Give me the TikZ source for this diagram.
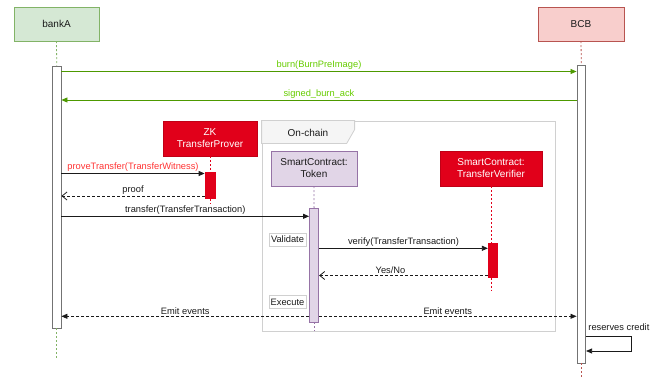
\documentclass[tikz,border=0pt]{standalone}
\usepackage{fontspec}
\setmainfont{Liberation Sans}
\usetikzlibrary{arrows.meta,calc}

\definecolor{bankfill}{HTML}{D5E8D4}
\definecolor{bankline}{HTML}{82B366}
\definecolor{bcbfill}{HTML}{F8CECC}
\definecolor{bcbline}{HTML}{B85450}
\definecolor{zkred}{HTML}{E1001A}
\definecolor{zkline}{HTML}{C00016}
\definecolor{tokfill}{HTML}{E1D5E7}
\definecolor{tokline}{HTML}{9673A6}
\definecolor{burnline}{HTML}{4D9900}
\definecolor{burntext}{HTML}{66CC00}
\definecolor{provetext}{HTML}{FF3333}
\definecolor{framegray}{HTML}{D0D0D0}
\definecolor{tabfill}{HTML}{F5F5F5}
\definecolor{txt}{HTML}{1A1A1A}

\tikzset{
    actor/.style={draw, align=center, inner sep=0pt, text=txt,
        font=\fontsize{10}{12}\selectfont},
    redactor/.style={actor, fill=zkred, draw=zkline, text=white},
    bar/.style={draw=gray!90!black, fill=white, inner sep=0pt, line width=0.8pt},
    life/.style={dash pattern=on 2pt off 2pt, line width=0.8pt},
    msg/.style={-{Triangle[length=6pt,width=5pt]}, line width=0.8pt, draw=txt},
    reply/.style={-{Straight Barb[length=5pt,width=8pt]}, line width=0.8pt,
        dash pattern=on 3pt off 2pt, draw=txt},
    lbl/.style={font=\fontsize{9.3}{11}\selectfont, text=txt, inner sep=1.2pt},
    step box/.style={draw=framegray, fill=white, inner sep=0pt, text=txt,
        minimum width=37pt, minimum height=13pt, font=\fontsize{9.3}{11}\selectfont}
}

\begin{document}
\begin{tikzpicture}[x=1pt,y=-1pt]
    \useasboundingbox (0,0) rectangle (651,377);

    % on-chain frame
    \node[draw=framegray, line width=0.8pt, minimum width=293pt, minimum height=210pt,
        inner sep=0pt] (onchain) at (408.5,226) {};
    \draw[draw=framegray, fill=tabfill, line width=0.8pt] (onchain.north west) -- ++(93,0)
        -- ++(0,9) -- ++(-8,14) -- ($(onchain.north west)+(0,23)$) -- cycle;
    \node[font=\fontsize{10}{12}\selectfont, text=txt] (onchaintitle) at (308,132.5) {On-chain};

    % participants
    \node[actor, fill=bankfill, draw=bankline, minimum width=85pt, minimum height=34pt] (bankA) at (56.5,24) {bankA};
    \node[actor, fill=bcbfill, draw=bcbline, minimum width=86pt, minimum height=34pt] (BCB) at (581,24) {BCB};
    \node[redactor, minimum width=94pt, minimum height=35pt] (prover) at (210,138.5) {ZK\\TransferProver};
    \node[actor, fill=tokfill, draw=tokline, minimum width=86pt, minimum height=35pt] (token) at (314,168.5) {SmartContract:\\Token};
    \node[redactor, minimum width=102pt, minimum height=35pt] (verifier) at (491,168.5) {SmartContract:\\TransferVerifier};

    % activation bars
    \node[bar, minimum width=8.5pt, minimum height=262pt] (bankbar) at (56.75,197) {};
    \node[bar, minimum width=8.7pt, minimum height=298pt] (bcbbar) at (581.3,214) {};
    \node[bar, fill=zkred, draw=zkred, minimum width=10pt, minimum height=26.7pt] (proverbar) at (210,185.3) {};
    \node[bar, fill=tokfill, draw=tokline, minimum width=9.2pt, minimum height=113.7pt] (tokenbar) at (314.1,265.2) {};
    \node[bar, fill=zkred, draw=zkred, minimum width=9pt, minimum height=34pt] (verifierbar) at (492.8,260.3) {};

    % lifelines
    \draw[life, draw=bankline] (bankA.south) -- (bankbar.north);
    \draw[life, draw=bankline] (bankbar.south) -- ++(0,31);
    \draw[life, draw=bcbline] (BCB.south) -- (bcbbar.north);
    \draw[life, draw=bcbline] (bcbbar.south) -- ++(0,14);
    \draw[life, draw=zkred] (prover.south) -- (proverbar.north);
    \draw[life, draw=zkred] (proverbar.south) -- ++(0,5);
    \draw[life, draw=tokline] (token.south) -- (tokenbar.north);
    \draw[life, draw=tokline] (tokenbar.south) -- ++(0,9);
    \draw[life, draw=zkred] (verifier.south) -- (verifier.south |- verifierbar.north);
    \draw[life, draw=zkred] (verifier.south |- verifierbar.south) -- ++(0,13);

    % messages
    \draw[msg, draw=burnline, -{Triangle[length=6pt,width=5pt,fill=burnline]}] (bankbar.east |- 0,71.5) -- (bcbbar.west |- 0,71.5)
        node[lbl, midway, above, text=burntext] {burn(BurnPreImage)};
    \draw[msg, draw=burnline, -{Triangle[length=6pt,width=5pt,fill=burnline]}] (bcbbar.west |- 0,100) -- (bankbar.east |- 0,100)
        node[lbl, midway, above, text=burntext] {signed\_burn\_ack};
    \draw[msg] (bankbar.east |- 0,173.5) -- (proverbar.west |- 0,173.5)
        node[lbl, midway, above, text=provetext] {proveTransfer(TransferWitness)};
    \draw[reply] (proverbar.west |- 0,196) -- (bankbar.east |- 0,196)
        node[lbl, midway, above] {proof};
    \draw[msg] (bankbar.east |- 0,216.3) -- (tokenbar.west |- 0,216.3)
        node[lbl, midway, above] {transfer(TransferTransaction)};
    \draw[msg] (tokenbar.east |- 0,248.3) -- (verifierbar.west |- 0,248.3)
        node[lbl, midway, above] {verify(TransferTransaction)};
    \draw[reply] (verifierbar.west |- 0,275.5) -- (tokenbar.east |- 0,275.5)
        node[lbl, midway, above, xshift=-13pt] {Yes/No};
    \draw[msg, dash pattern=on 3pt off 2pt] (tokenbar.west |- 0,316.3) -- (bankbar.east |- 0,316.3)
        node[lbl, midway, above] {Emit events};
    \draw[msg, dash pattern=on 3pt off 2pt] (tokenbar.east |- 0,316.3) -- (bcbbar.west |- 0,316.3)
        node[lbl, midway, above] {Emit events};
    \draw[msg] (bcbbar.east |- 0,336) -- ++(45.3,0) |- (bcbbar.east |- 0,351);
    \node[lbl, anchor=west] (reserves) at (587,327) {reserves credit};

    % steps inside the contract
    \node[step box] (validate) at (287.5,239.5) {Validate};
    \node[step box] (execute) at (287.5,302) {Execute};
\end{tikzpicture}
\end{document}
